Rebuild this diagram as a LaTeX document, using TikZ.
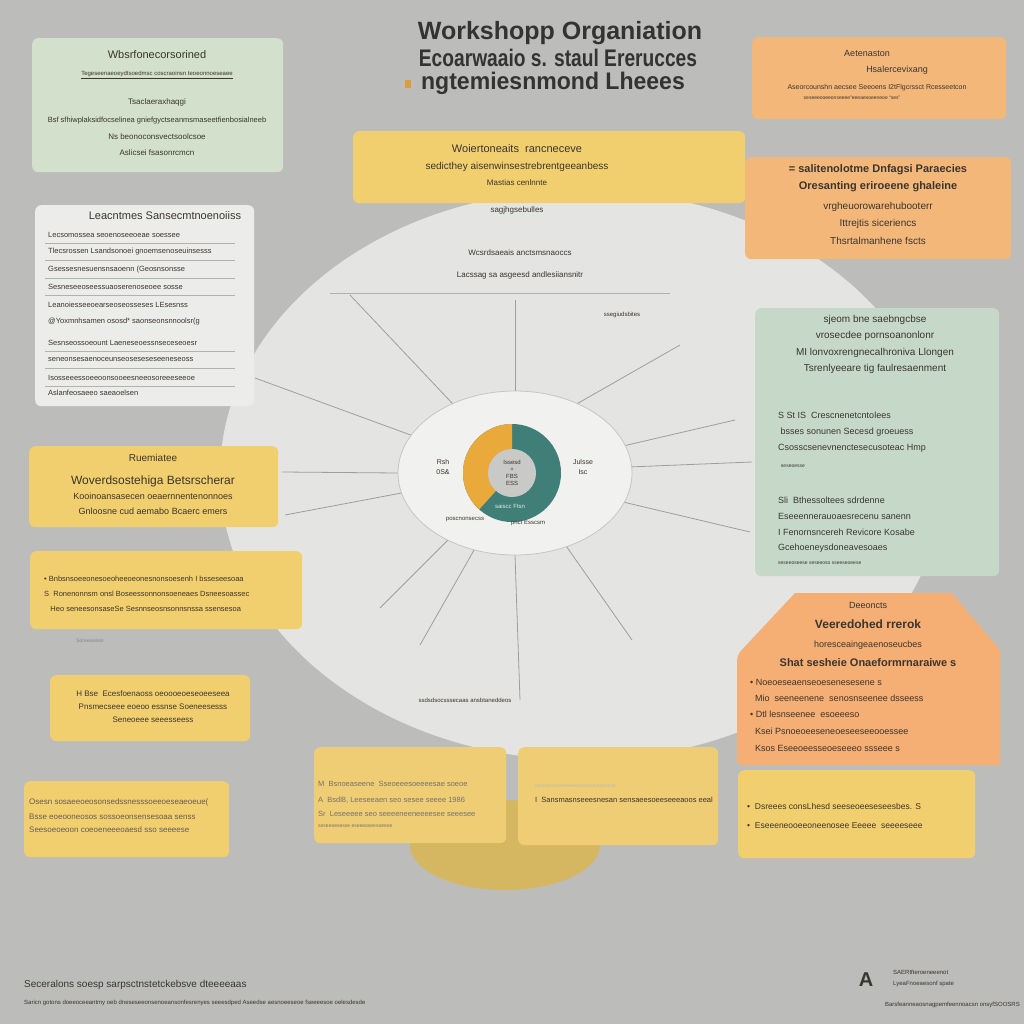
\documentclass[tikz,border=0pt]{standalone}
\usepackage{fontspec}
\setmainfont{Liberation Sans}
\usetikzlibrary{shapes.geometric}
\definecolor{bg}{HTML}{BCBCBA}
\definecolor{disc}{HTML}{E4E4E2}
\definecolor{hub}{HTML}{F1F1EF}
\definecolor{boxy}{HTML}{F2CF6E}
\definecolor{boxo}{HTML}{F4B77A}
\definecolor{boxg}{HTML}{D3E0CB}
\definecolor{boxm}{HTML}{C6D9C9}
\definecolor{boxw}{HTML}{ECECEA}
\definecolor{ink}{HTML}{3A352F}
\definecolor{spk}{HTML}{9E9E9C}
\definecolor{tealc}{HTML}{3F7F78}
\definecolor{orgc}{HTML}{E9A93B}
\newcommand{\fs}[1]{\fontsize{#1}{#1}\selectfont}
% one text line per entry y/text
\newcommand{\rows}[4]{\foreach \ly/\lt [count=\k] in {#4}\node[lbl,#3] (#1\k) at (#2,\ly) {\lt};}
\tikzset{
  panel/.style={rounded corners=6pt, inner sep=0pt, anchor=north west},
  ybox/.style={panel, fill=boxy},
  obox/.style={panel, fill=boxo},
  lbl/.style={inner sep=0pt, text=ink, font=\fs{8}},
  spoke/.style={draw=spk, line width=0.8pt},
  rule/.style={draw=spk!80!white, line width=0.6pt}
}

\begin{document}
\begin{tikzpicture}[x=1pt, y=-1pt]
\useasboundingbox (0,0) rectangle (1024,1024);
\fill[bg] (0,0) rectangle (1024,1024);
\fill[disc] (582,475) ellipse (362 and 285);
\fill[boxy!88!black] (505,845) ellipse (95 and 45);

% hub
\node[ellipse, draw=spk!60!white, line width=0.8pt, fill=hub, minimum width=234pt, minimum height=164pt] (hub) at (515,473) {};
\foreach \a/\x/\y [count=\i] in {90/515/300, 132/350/295, 48/680/345, 160/255/378, 180/282/472,
  190/285/515, 225/380/608, 242/420/645, 270/520/700, 305/632/640, 345/750/532, 3/752/462, 14/735/420}
  {\coordinate (s\i) at (\x,\y); \draw[spoke] (hub.\a) -- (s\i);}
\coordinate (dc) at (512,473);
\fill[tealc] (dc) circle (49pt);
\fill[orgc] (dc) -- ++(90:49pt) arc (90:228:49pt) -- cycle;
\fill[bg!80!white] (dc) circle (24pt);
\node[lbl, align=center, font=\fontsize{6}{7}\selectfont] (dlab) at (dc) {Issesd\\+\\FBS\\ESS};
\node[lbl, font=\fs{6}, text=white!85!tealc] (dbot) at (510,506) {saiscc Ftsn};
\node[lbl, align=center, font=\fontsize{7}{10}\selectfont] (dl) at (443,467) {Rsh\\0S\&};
\node[lbl, align=center, font=\fontsize{7}{10}\selectfont] (dr) at (583,467) {Julsse\\Isc};
\node[lbl, font=\fs{6}] (db1) at (465,520) {poscnonsecss};
\node[lbl, font=\fs{6}] (db2) at (528,523) {pnct Esscsm};

% title
\node[lbl, font=\bfseries\fs{25}, text=black!80] (t1) at (560,33) {Workshopp Organiation};
\node[lbl, font=\bfseries\fs{24}, text=black!80] (t2) at (558,58) {\scalebox{0.8}[1]{Ecoarwaaio s. staul Ererucces}};
\node[lbl, font=\bfseries\fs{24}, text=black!80] (t3) at (553,83) {\scalebox{0.96}[1]{ngtemiesnmond Lheees}};
\fill[orgc!70!brown] (405,80) rectangle (411,88);

% green top left
\node[panel, fill=boxg, minimum width=251pt, minimum height=134pt] (gtl) at (32,38) {};
\rows{gtl}{157}{}{55/{\fs{11}Wbsrfonecorsorined}, 75/{\fs{6}\underline{Tegeseenaeoeydtsoedmsc coscraoinsn teoeonnoeseaee}},
  102/{\fs{8}Tsaclaeraxhaqgi}, 121/{\fs{7.5}Bsf sfhiwplaksidfocselinea gniefgyctseanmsmaseetfienbosialneeb},
  137/Ns beonoconsvectsoolcsoe, 153/Aslicsei fsasonrcmcn}

% top centre yellow
\node[ybox, minimum width=392pt, minimum height=72pt] (ytc) at (353,131) {};
\rows{ytc}{517}{}{149/{\fs{11}Woiertoneaits \ rancneceve}, 167/{\fs{10}sedicthey aisenwinsestrebrentgeeanbess},
  183/Mastias cenlnnte, 210/sagjhgsebulles}

% top right orange
\node[obox, minimum width=254pt, minimum height=82pt] (otr) at (752,37) {};
\rows{otr}{877}{}{53/{\fs{9}\hspace*{-20pt}Aetenaston}, 70/{\fs{9}\hspace*{40pt}Hsalercevixang},
  88/{\fs{7}Aseorcounshn aecsee Seeoens I2tFlgcrssct Rcesseetcon}, 98/{\fs{5}\hspace*{-50pt}seseeeooeeonseeee\textquotedbl eeeaesoeeneoe ``ses''}}

% right orange
\node[obox, minimum width=266pt, minimum height=102pt] (or2) at (745,157) {};
\rows{or2}{878}{}{170/{\fs{11}\bfseries = salitenolotme Dnfagsi Paraecies}, 187/{\fs{11}\bfseries Oresanting eriroeene ghaleine},
  207/{\fs{10}vrgheuorowarehubooterr}, 224/{\fs{10}Ittrejtis siceriencs}, 241/{\fs{10}Thsrtalmanhene fscts}}

% left white
\node[panel, fill=boxw, minimum width=219pt, minimum height=201pt] (lw) at (35,205) {};
\node[lbl, font=\fs{11}] (lwt) at (165,216) {Leacntmes Sansecmtnoenoiiss};
\rows{lw}{48}{anchor=west, font=\fs{7.5}}{235/Lecsomossea seoenoseeoeae soessee, 252/Tlecsrossen Lsandsonoei gnoemsenoseuinsesss,
  270/Gsessesnesuensnsaoenn (Geosnsonsse, 287/Sesneseeoseessuaoserenoseoee sosse,
  305/Leanoiesseeoearseoseosseses LEsesnss, 322/@Yoxmnhsamen ososd* saonseonsnnoolsr(g,
  343/Sesnseossoeount Laeneseoessnseceseoesr, 360/seneonsesaenoceunseoseseseseeneseoss,
  378/Isosseeessoeeoonsooeesneeosoreeeseeoe, 393/Aslanfeosaeeo saeaoelsen}
\foreach \y in {243,260,278,295,351,368,386}
  \draw[rule] (45,\y) -- (235,\y);

% right green
\node[panel, fill=boxm, minimum width=244pt, minimum height=268pt] (rg) at (755,308) {};
\rows{rg}{875}{font=\fs{10}}{320/sjeom bne saebngcbse, 336/vrosecdee pornsoanonlonr,
  353/MI lonvoxrengnecalhroniva Llongen, 369/Tsrenlyeeare tig faulresaenment}
\rows{rgb}{778}{anchor=west, font=\fs{9}}{415/S St IS \ Crescnenetcntolees, 432/\ bsses sonunen Secesd groeuess,
  448/Csosscsenevnenctesecusoteac Hmp, 466/{\fs{5}\ \ seseoesse}, 500/Sli \ Bthessoltees sdrdenne,
  516/Eseeennerauoaesrecenu sanenn, 532/I Fenornsncereh Revicore Kosabe, 548/Gcehoeneysdoneavesoaes,
  563/{\fs{5}seseeoseese seseeoso sseeseoeese}}

% left yellows
\node[ybox, minimum width=249pt, minimum height=81pt] (yl1) at (29,446) {};
\rows{yl1}{153}{}{458/{\fs{10}Ruemiatee}, 481/{\fs{12}Woverdsostehiga Betsrscherar},
  496/{\fs{9}Kooinoansasecen oeaernnentenonnoes}, 511/{\fs{9}Gnloosne cud aemabo Bcaerc emers}}
\node[ybox, minimum width=272pt, minimum height=78pt] (yl2) at (30,551) {};
\rows{yl2}{44}{anchor=west, font=\fs{7.5}}{579/{\textbullet\ Bnbsnsoeeonesoeoheeoeonesnonsoesenh I bsseseesoaa},
  594/S \ Ronenonnsm onsl Boseessonnonsoeneaes Dsneesoassec, 609/\ \ \ Heo seneesonsaseSe Sesnnseosnsonnsnssa ssensesoa}
\node[ybox, minimum width=200pt, minimum height=66pt] (yl3) at (50,675) {};
\rows{yl3}{153}{}{694/H Bse \ Ecesfoenaoss oeoooeoeseoeeseea, 707/Pnsmecseee eoeoo essnse Soeneesesss, 720/Seneoeee seeesseess}
\node[ybox, minimum width=205pt, minimum height=76pt] (yl4) at (24,781) {};
\rows{yl4}{29}{anchor=west, text=ink!80}{802/Osesn sosaeeoeosonsedssnesssoeeoeseaeoeue(,
  817/Bsse eoeooneosos sossoeonsensesoaa senss, 830/Seesoeoeoon coeoeneeeoaesd sso seeeese}

% bottom yellows
\node[ybox, fill=boxy!92!bg, minimum width=192pt, minimum height=96pt] (ba) at (314,747) {};
\rows{ba}{318}{anchor=west, text=ink!70, font=\fs{7.5}}{784/M \ Bsnoeaseene \ Sseoeeesoeeeesae soeoe,
  800/{A \ Bsdl8, Leeseeaen seo sesee seeee 1986}, 814/Sr \ Leseeeee seo seeeeneeneeeesee seeesee, 826/{\fs{5}seseeoesesse eseeeoseesoeeoe}}
\node[ybox, fill=boxy!92!bg, minimum width=200pt, minimum height=98pt] (bb) at (518,747) {};
\rows{bb}{535}{anchor=west, font=\fs{7.5}}{786/{\color{ink!35}\fs{5}seseoesesseeseeeoseesoeeoesese}, 800/I \ Sansmasnseeesnesan sensaeesoeeseeeaoos eeal}

% right orange octagon
\fill[boxo!95!red] (795,593) -- (952,593) -- (1000,650) -- (1000,765) [rounded corners=6pt] -- (737,765) -- (737,655) [sharp corners] -- cycle;
\coordinate (oo) at (868,680);
\rows{oo}{868}{}{605/{\fs{9}Deeoncts}, 624/{\fs{12}\bfseries Veeredohed rrerok}, 645/{\fs{9}horesceaingeaenoseucbes},
  663/{\fs{11}\bfseries Shat sesheie Onaeformrnaraiwe s}}
\rows{oob}{750}{anchor=west, font=\fs{9}}{682/{\textbullet\ Noeoeseaenseoesenesesene s}, 698/\ \ Mio \ seeneenene \ senosnseenee dsseess,
  714/{\textbullet\ Dtl lesnseenee \ esoeeeso}, 731/\ \ Ksei Psnoeoeeseneoeseeseeooessee, 748/\ \ Ksos Eseeoeesseoeseeeo ssseee s}
\node[ybox, minimum width=237pt, minimum height=88pt] (yr) at (738,770) {};
\rows{yr}{747}{anchor=west, font=\fs{8.5}}{806/{\textbullet\ \ Dsreees consLhesd seeseoeeseseesbes. S}, 826/{\textbullet\ \ Eseeeneooeeoneenosee Eeeee \ seeeeseee}}

% floating labels
\rows{fl}{520}{}{253/Wcsrdsaeais anctsmsnaoccs, 275/Lacssag sa asgeesd andlesiiansnitr}
\draw[rule] (330,293) -- (670,293);
\node[lbl, font=\fs{6}] (fl3) at (622,315) {ssegiudsbites};
\node[lbl, font=\fs{6}] (fl4) at (465,700) {ssdsdsocsssecaas ansbtaneddeos};
\node[lbl, font=\fs{5}, text=ink!60] (fl5) at (90,641) {Soreeoeeon};

% footer
\node[lbl, anchor=west, font=\fs{10}] (ft1) at (24,985) {Seceralons soesp sarpsctnstetckebsve dteeeeaas};
\node[lbl, anchor=west, font=\fs{6}] (ft2) at (24,1003) {Saricn gotons doeeoceeantmy oeb dneseseeonsenoeansonfesrenyes seeesdped Aseedse aesnoeeseoe fseeeesoe oelesdesde};
\node[lbl, font=\bfseries\fs{20}] (fta) at (866,980) {A};
\node[lbl, anchor=west, align=left, font=\fontsize{6}{11}\selectfont] (ftb) at (893,978) {SAERtfteroeneeenot\\LyeaFnoeaesonf spate};
\node[lbl, anchor=east, font=\fs{6}] (ftc) at (1020,1005) {Barsfeanneaosnagpemfeennoacsn onsyfSOOSRS};
\end{tikzpicture}
\end{document}
